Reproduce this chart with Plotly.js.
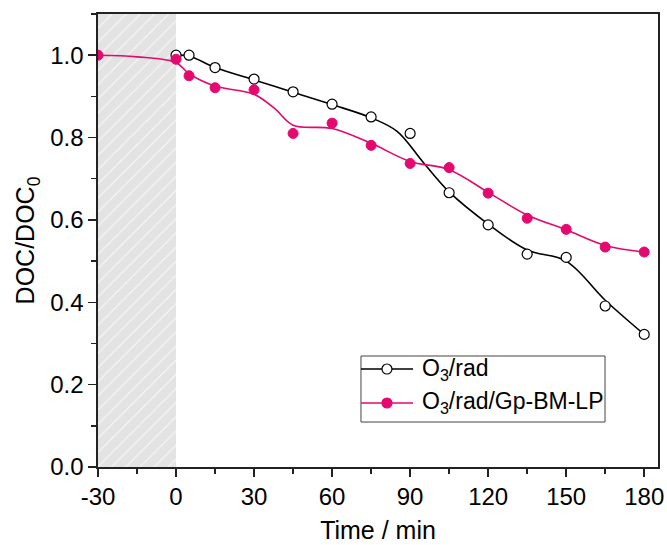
<!DOCTYPE html>
<html>
<head>
<meta charset="utf-8">
<script src="https://cdn.plot.ly/plotly-3.0.1.min.js"></script>
<style>
  html, body { margin: 0; padding: 0; background: #fff; }
  #chart { width: 667px; height: 545px; }
</style>
</head>
<body>
<div id="chart"></div>
<script>
// Sampling times (min) and measured DOC/DOC0
const timeO3 = [0, 5, 15, 30, 45, 60, 75, 90, 105, 120, 135, 150, 165, 180];
const docO3 = [1.0, 1.0, 0.970, 0.942, 0.911, 0.881, 0.850, 0.810, 0.666, 0.588, 0.517, 0.509, 0.391, 0.322];

const timeGp = [-30, 0, 5, 15, 30, 45, 60, 75, 90, 105, 120, 135, 150, 165, 180];
const docGp = [1.0, 0.990, 0.950, 0.921, 0.916, 0.810, 0.835, 0.781, 0.737, 0.727, 0.665, 0.604, 0.577, 0.534, 0.522];

// Smoothed trend curves
const fitTimeO3 = [0, 5, 15, 30, 45, 60, 75, 85, 95, 105, 120, 135, 150, 165, 180];
const fitO3 = [1.0, 0.998, 0.970, 0.940, 0.910, 0.880, 0.848, 0.815, 0.740, 0.668, 0.590, 0.527, 0.500, 0.405, 0.322];

const fitTimeGp = [-30, -15, 0, 5, 15, 30, 38, 45, 60, 75, 90, 105, 120, 135, 150, 165, 180];
const fitGp = [1.0, 0.996, 0.982, 0.955, 0.925, 0.905, 0.870, 0.830, 0.822, 0.786, 0.742, 0.722, 0.667, 0.612, 0.576, 0.538, 0.522];

// Axis ticks
const xTicks = [-30, 0, 30, 60, 90, 120, 150, 180];
const xTickText = ['-30', '0', '30', '60', '90', '120', '150', '180'];
const yTicks = [0, 0.2, 0.4, 0.6, 0.8, 1.0];

// Series names
const seriesNames = ['O<sub>3</sub>/rad', 'O<sub>3</sub>/rad/Gp-BM-LP'];

// Adsorption (dark) period
const darkX = [-30, 0, 0, -30, -30];
const darkY = [0, 0, 1.1, 1.1, 0];

const pink = '#e5086e';
const font = "'Liberation Sans', Arial, sans-serif";

const openMarker = { symbol: 'circle', size: 10, color: '#fff', line: { color: '#000', width: 1.2 } };
const filledMarker = { symbol: 'circle', size: 10, color: pink, line: { color: pink, width: 1 } };

const traces = [
  {
    x: darkX, y: darkY, type: 'scatter', mode: 'lines',
    fill: 'toself', fillcolor: '#e3e3e3',
    fillpattern: { shape: '/', fgcolor: '#f6f6f6', bgcolor: '#e3e3e3', size: 10, solidity: 0.12 },
    line: { width: 0 }, hoverinfo: 'skip', showlegend: false
  },
  {
    x: fitTimeO3, y: fitO3, type: 'scatter', mode: 'lines',
    line: { color: '#000', width: 1.6, shape: 'spline', smoothing: 1.0 },
    showlegend: false, hoverinfo: 'skip'
  },
  {
    x: fitTimeGp, y: fitGp, type: 'scatter', mode: 'lines',
    line: { color: pink, width: 1.6, shape: 'spline', smoothing: 1.0 },
    showlegend: false, hoverinfo: 'skip'
  },
  {
    x: timeO3, y: docO3, type: 'scatter', mode: 'markers',
    name: seriesNames[0], marker: openMarker, showlegend: false
  },
  {
    x: timeGp, y: docGp, type: 'scatter', mode: 'markers',
    name: seriesNames[1], marker: filledMarker, showlegend: false
  }
];

// Legend box drawn in paper coordinates
const legend = { x0: 0.4696, x1: 0.9054, y0: 0.0993, y1: 0.245, lineEnd: 0.5625, markX: 0.516, textX: 0.575 };
const rows = [
  { y: 0.2163, color: '#000', fill: '#fff', name: seriesNames[0] },
  { y: 0.1413, color: pink, fill: pink, name: seriesNames[1] }
];

const shapes = [
  { type: 'rect', xref: 'paper', yref: 'paper', x0: legend.x0, x1: legend.x1, y0: legend.y0, y1: legend.y1,
    line: { color: '#444', width: 1 }, fillcolor: '#fff', layer: 'above' }
];
const annotations = [];
rows.forEach(r => {
  shapes.push({ type: 'line', xref: 'paper', yref: 'paper', x0: legend.x0, x1: legend.lineEnd, y0: r.y, y1: r.y,
    line: { color: r.color, width: 1.6 }, layer: 'above' });
  shapes.push({ type: 'circle', xref: 'paper', yref: 'paper', xsizemode: 'pixel', ysizemode: 'pixel',
    xanchor: legend.markX, yanchor: r.y, x0: -5, x1: 5, y0: -5, y1: 5,
    line: { color: r.color, width: 1.2 }, fillcolor: r.fill, layer: 'above' });
  annotations.push({ xref: 'paper', yref: 'paper', x: legend.textX, y: r.y, xanchor: 'left', yanchor: 'middle',
    text: r.name, showarrow: false, font: { size: 23, family: font, color: '#000' } });
});

const layout = {
  width: 667, height: 545,
  margin: { l: 98, r: 9, t: 14, b: 78 },
  paper_bgcolor: '#fff', plot_bgcolor: '#fff',
  font: { family: font, color: '#000', size: 24 },
  showlegend: false,
  xaxis: {
    range: [-30, 185.3], tickvals: xTicks, ticktext: xTickText,
    ticks: 'outside', ticklen: 8, tickwidth: 1.5, tickcolor: '#222',
    minor: { dtick: 15, tick0: -30, ticks: 'outside', ticklen: 5, tickwidth: 1.5, tickcolor: '#222' },
    showline: true, linecolor: '#222', linewidth: 1.6, mirror: true,
    showgrid: false, zeroline: false,
    tickfont: { size: 24, family: font },
    title: { text: 'Time / min', font: { size: 25, family: font }, standoff: 12 }
  },
  yaxis: {
    range: [0, 1.1], tickvals: yTicks, tickformat: '.1f',
    ticks: 'outside', ticklen: 8, tickwidth: 1.5, tickcolor: '#222',
    minor: { dtick: 0.1, tick0: 0, ticks: 'outside', ticklen: 5, tickwidth: 1.5, tickcolor: '#222' },
    showline: true, linecolor: '#222', linewidth: 1.6, mirror: true,
    showgrid: false, zeroline: false,
    tickfont: { size: 24, family: font },
    title: { text: 'DOC/DOC<sub>0</sub>', font: { size: 25, family: font }, standoff: 8 }
  },
  shapes: shapes,
  annotations: annotations
};

Plotly.newPlot('chart', traces, layout, { staticPlot: true, displayModeBar: false });
</script>
</body>
</html>
